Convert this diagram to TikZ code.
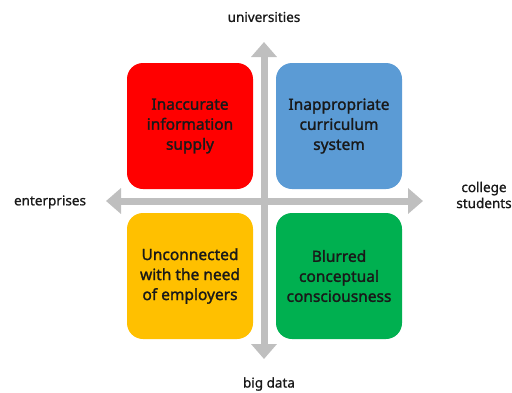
\documentclass[tikz,border=0pt]{standalone}
\usepackage{fontspec}
\setmainfont{Noto Sans}
\newfontfamily\heavyfont[FakeBold=1.6]{Noto Sans}
\newfontfamily\labelfont[FakeBold=1.0]{Noto Sans}
\usetikzlibrary{arrows.meta}

\definecolor{boxred}{HTML}{FF0000}
\definecolor{boxblue}{HTML}{5B9BD5}
\definecolor{boxorange}{HTML}{FFC000}
\definecolor{boxgreen}{HTML}{00B050}
\definecolor{axisgray}{HTML}{BFBFBF}

\tikzset{
    quad/.style={minimum width=126pt, minimum height=126pt, rounded corners=16pt,
        align=center, font=\heavyfont\fontsize{15.5}{20}\selectfont, text=black!90},
    axislabel/.style={align=center, font=\labelfont\fontsize{13.5}{16}\selectfont, text=black!90},
    axis/.style={axisgray, line width=7pt,
        {Triangle[length=15pt,width=25pt]}-{Triangle[length=15pt,width=25pt]}}
}

\begin{document}
\begin{tikzpicture}[x=1pt,y=-1pt]
    \useasboundingbox (0,0) rectangle (512,392);

    % the four fields
    \node[quad, fill=boxred]    (info)   at (190,126) {Inaccurate\\information\\supply};
    \node[quad, fill=boxblue]   (course) at (339,126) {Inappropriate\\curriculum\\system};
    \node[quad, fill=boxorange] (need)   at (190,276) {Unconnected\\with the need\\of employers};
    \node[quad, fill=boxgreen]  (concept) at (339,276) {Blurred\\conceptual\\consciousness};

    % axes
    \coordinate (top)    at (264,42);
    \coordinate (bottom) at (264,359);
    \coordinate (left)   at (106,201);
    \coordinate (right)  at (423,201);
    \draw[axis] (left) -- (right);
    \draw[axis] (bottom) -- (top);

    \node[axislabel] (univ)  at (264,17)  {universities};
    \node[axislabel] (big)   at (269,384) {big data};
    \node[axislabel] (ent)   at (50,202)  {enterprises};
    \node[axislabel, inner sep=0pt] (stud)  at (484,195) {college\\students};
\end{tikzpicture}
\end{document}
